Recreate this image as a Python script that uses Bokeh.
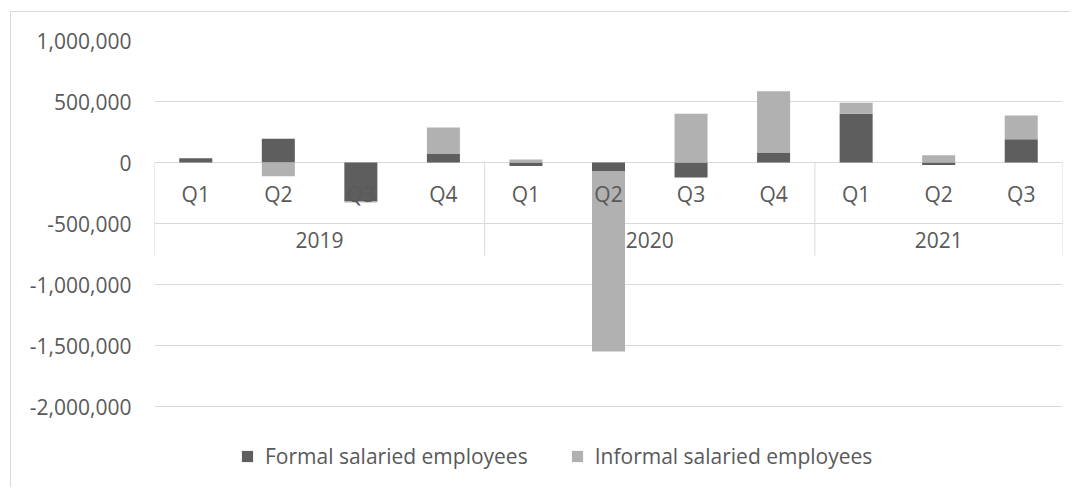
from bokeh.plotting import figure
from bokeh.models import (FactorRange, Range1d, FixedTicker, NumeralTickFormatter,
                          ColumnDataSource, Legend, LegendItem)
from bokeh.transform import dodge
from bokeh.core.properties import value
from bokeh.embed import file_html
from bokeh.resources import INLINE

# ---------------- data ----------------
years = ["2019", "2019", "2019", "2019", "2020", "2020", "2020", "2020", "2021", "2021", "2021"]
quarters = ["Q1", "Q2", "Q3", "Q4", "Q1", "Q2", "Q3", "Q4", "Q1", "Q2", "Q3"]
formal = [35000, 194000, -320000, 74000, -28000, -74000, -123000, 82000, 399000, -20000, 191000]
informal = [0, -112000, -8000, 213000, 25000, -1475000, 399000, 503000, 90000, 60000, 194000]
year_labels = ["2019", "2020", "2021"]
y_ticks = [-2000000, -1500000, -1000000, -500000, 0, 500000, 1000000]
series_names = ["Formal salaried employees", "Informal salaried employees"]

# ---------------- styling / layout ----------------
FONT = "Open Sans"
FS = "21px"
TXT = "#595959"
GRID = "#d9d9d9"
C_FORMAL = "#5e5e5e"
C_INFORMAL = "#b1b1b1"

W, H = 1060, 476
ML, MR, MT, MB = 143, 9, 28, 0
frame_h = H - MT - MB
px_per_unit = 122.0 / 1_000_000
y_end = 1_000_000
y_start = y_end - frame_h / px_per_unit

def px(offset):  # convert pixel offset below zero into data units
    return -offset / px_per_unit

factors = list(zip(years, quarters))

# stacking like Excel: positives stack up, negatives stack down
f_bottom = [0] * len(formal)
f_top = list(formal)
i_bottom = [f if f * i > 0 else 0 for f, i in zip(formal, informal)]
i_top = [b + i for b, i in zip(i_bottom, informal)]

src = ColumnDataSource(dict(x=factors, fb=f_bottom, ft=f_top, ib=i_bottom, it=i_top,
                            q=quarters))

x_range = FactorRange(*factors, factor_padding=0, group_padding=0,
                      subgroup_padding=0, range_padding=0)

p = figure(width=W, height=H, x_range=x_range, y_range=Range1d(y_start, y_end),
           output_backend="svg", toolbar_location=None,
           min_border_left=ML, min_border_right=MR, min_border_top=MT,
           min_border_bottom=MB)
p.margin = (11, 0, 0, 10)
p.styles = {"border-top": "1px solid #d9d9d9", "border-left": "1px solid #d9d9d9"}
p.outline_line_color = None
p.background_fill_color = "white"
p.border_fill_color = "white"

# axes
p.xaxis.visible = False
p.xgrid.visible = False
yax = p.yaxis[0]
yax.ticker = FixedTicker(ticks=y_ticks)
yax.formatter = NumeralTickFormatter(format="0,0")
yax.axis_line_color = None
yax.major_tick_line_color = None
yax.minor_tick_line_color = None
yax.major_tick_out = 0
yax.major_label_standoff = 23
yax.major_label_text_font = FONT
yax.major_label_text_font_size = FS
yax.major_label_text_color = TXT
p.ygrid.ticker = FixedTicker(ticks=y_ticks)
p.ygrid.grid_line_color = GRID
p.ygrid.grid_line_width = 1

# category separators (multi-level axis box)
sep_src = ColumnDataSource(dict(x=[("2019", "Q1"), ("2020", "Q1"), ("2021", "Q1")]))
p.segment(x0=dodge("x", -0.5, range=x_range), x1=dodge("x", -0.5, range=x_range),
          y0=0, y1=px(93), source=sep_src, line_color=GRID, line_width=1)
end_src = ColumnDataSource(dict(x=[("2021", "Q3")]))
p.segment(x0=dodge("x", 0.5, range=x_range), x1=dodge("x", 0.5, range=x_range),
          y0=0, y1=px(93), source=end_src, line_color=GRID, line_width=1)

# bars
r_formal = p.vbar(x="x", bottom="fb", top="ft", width=0.4, source=src,
                  fill_color=C_FORMAL, line_color=None)
r_informal = p.vbar(x="x", bottom="ib", top="it", width=0.4, source=src,
                    fill_color=C_INFORMAL, line_color=None)

# category labels
p.text(x="x", y=px(31), text="q", source=src, text_font=value(FONT),
       text_font_size=value(FS), text_color=TXT, text_align="center",
       text_baseline="middle")
ysrc = ColumnDataSource(dict(x=year_labels, t=year_labels))
p.text(x="x", y=px(77), text="t", source=ysrc, text_font=value(FONT),
       text_font_size=value(FS), text_color=TXT, text_align="center",
       text_baseline="middle")

legend = Legend(items=[LegendItem(label=series_names[0], renderers=[r_formal]),
                       LegendItem(label=series_names[1], renderers=[r_informal])],
                orientation="horizontal", location=(86, 18))
legend.glyph_width = 14
legend.glyph_height = 14
legend.label_standoff = 11
legend.spacing = 42
legend.padding = 0
legend.margin = 0
legend.border_line_color = None
legend.background_fill_alpha = 0
legend.label_text_font = FONT
legend.label_text_font_size = FS
legend.label_text_color = TXT
p.add_layout(legend)

open("out.html", "w").write(file_html(p, INLINE))
